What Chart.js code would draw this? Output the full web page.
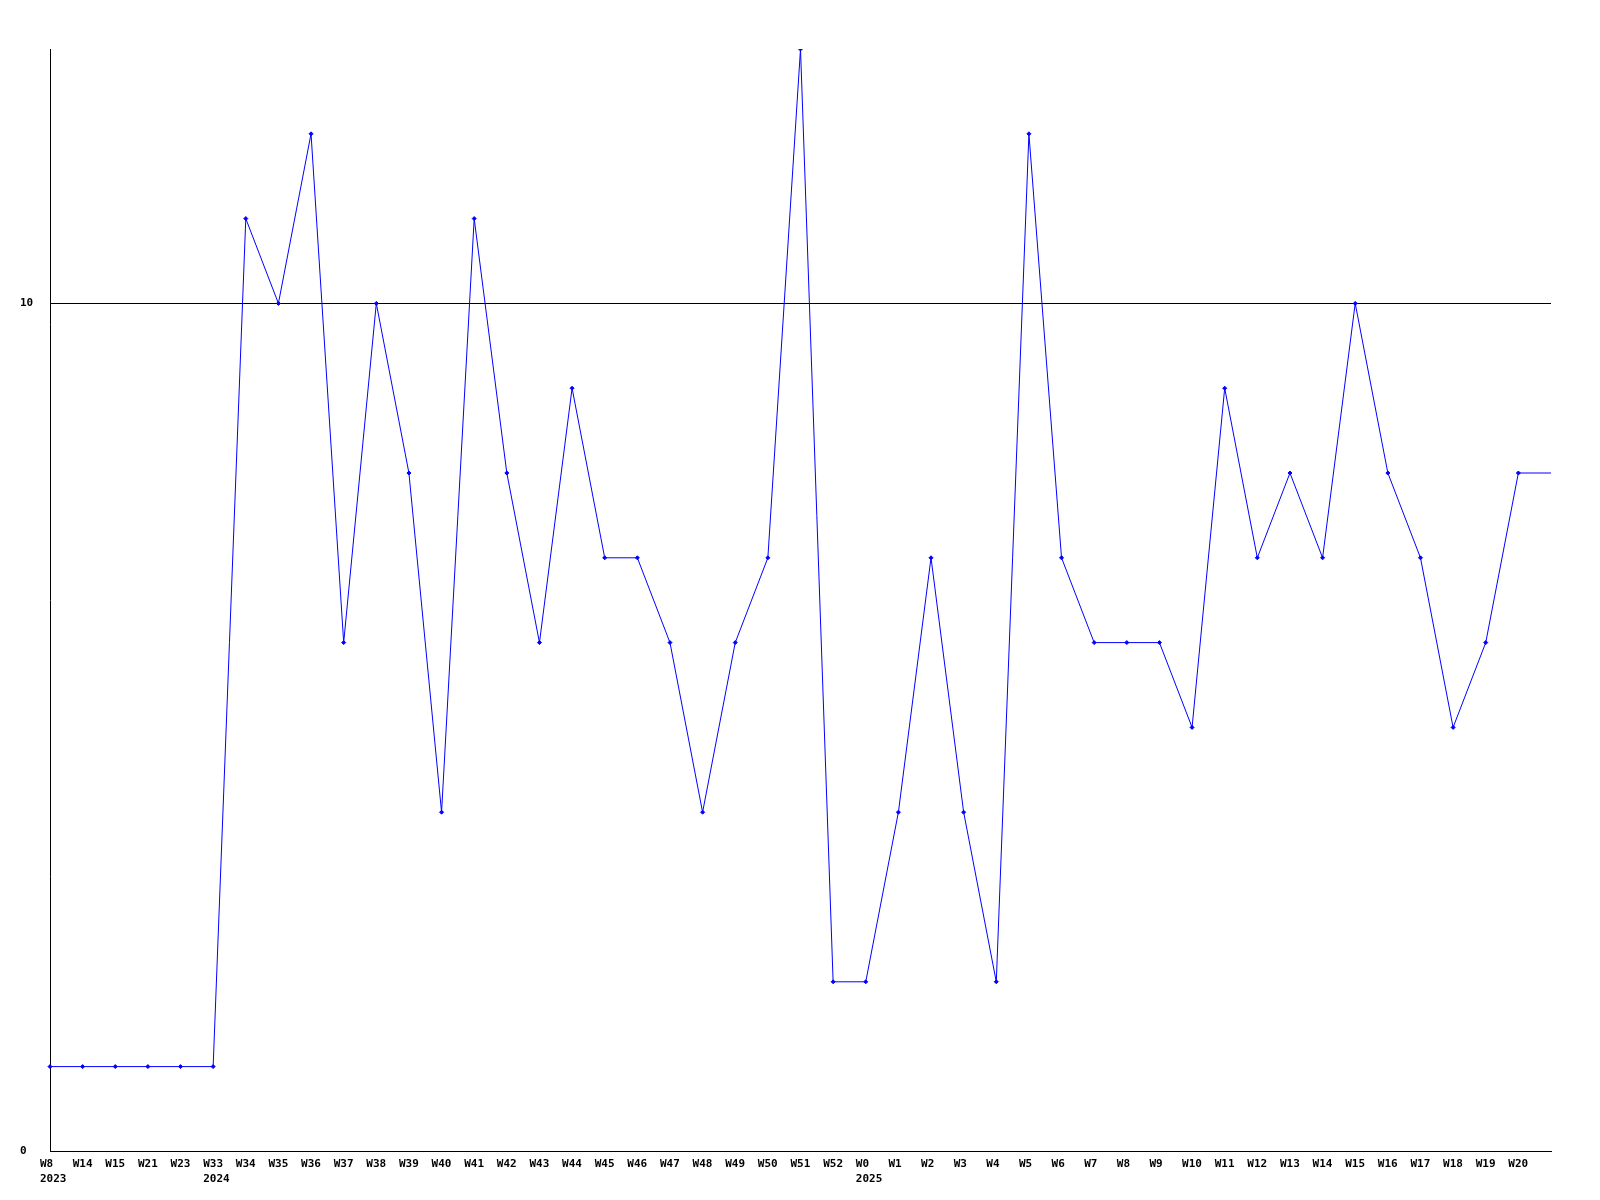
<!DOCTYPE html>
<html>
<head>
<meta charset="utf-8">
<style>
html,body{margin:0;padding:0;background:#fff;}
canvas{display:block;}
</style>
<script src="https://cdn.jsdelivr.net/npm/chart.js@4/dist/chart.umd.min.js"></script>
</head>
<body>
<canvas id="c" width="1600" height="1200"></canvas>
<script>
const weeks = ['W8','W14','W15','W21','W23','W33','W34','W35','W36','W37','W38','W39','W40','W41','W42','W43','W44','W45','W46','W47','W48','W49','W50','W51','W52','W0','W1','W2','W3','W4','W5','W6','W7','W8','W9','W10','W11','W12','W13','W14','W15','W16','W17','W18','W19','W20',''];
const years = {0:'2023', 5:'2024', 25:'2025'};
const values = [1,1,1,1,1,1,11,10,12,6,10,8,4,11,8,6,9,7,7,6,4,6,7,13,2,2,4,7,4,2,12,7,6,6,6,5,9,7,8,7,10,8,7,5,6,8,8];
const yTicks = [0,10];

const labels = weeks.map((w,i) => years[i] ? [w, years[i]] : w);
const lastIdx = values.length - 1;
const font = {family:'DejaVu Sans Mono', size:11, weight:'bold', lineHeight:1.3};

new Chart(document.getElementById('c'), {
  type:'line',
  data:{labels, datasets:[{
    data: values,
    borderColor:'#0000ff',
    backgroundColor:'#0000ff',
    borderWidth:1,
    tension:0,
    pointStyle:'rectRot',
    pointRadius: ctx => ctx.dataIndex === lastIdx ? 0 : 2,
    pointBorderWidth:1,
    fill:false
  }]},
  options:{
    responsive:false,
    animation:false,
    devicePixelRatio:1,
    layout:{padding:{left:20, top:49, right:49, bottom:8}},
    plugins:{legend:{display:false}, tooltip:{enabled:false}},
    scales:{
      x:{
        offset:false,
        grid:{display:false, drawTicks:false},
        border:{display:true, color:'#000', width:1},
        ticks:{autoSkip:false, maxRotation:0, minRotation:0, padding:6, align:'start', labelOffset:-10, color:'#000', font}
      },
      y:{
        min:0, max:13,
        afterBuildTicks: s => { s.ticks = yTicks.map(v => ({value:v})); },
        afterFit: s => { s.width = 30; },
        grid:{color:'#000', lineWidth:1, drawTicks:false},
        border:{display:true, color:'#000', width:1},
        ticks:{crossAlign:'far', padding:0, color:'#000', font}
      }
    }
  }
});
</script>
</body>
</html>
